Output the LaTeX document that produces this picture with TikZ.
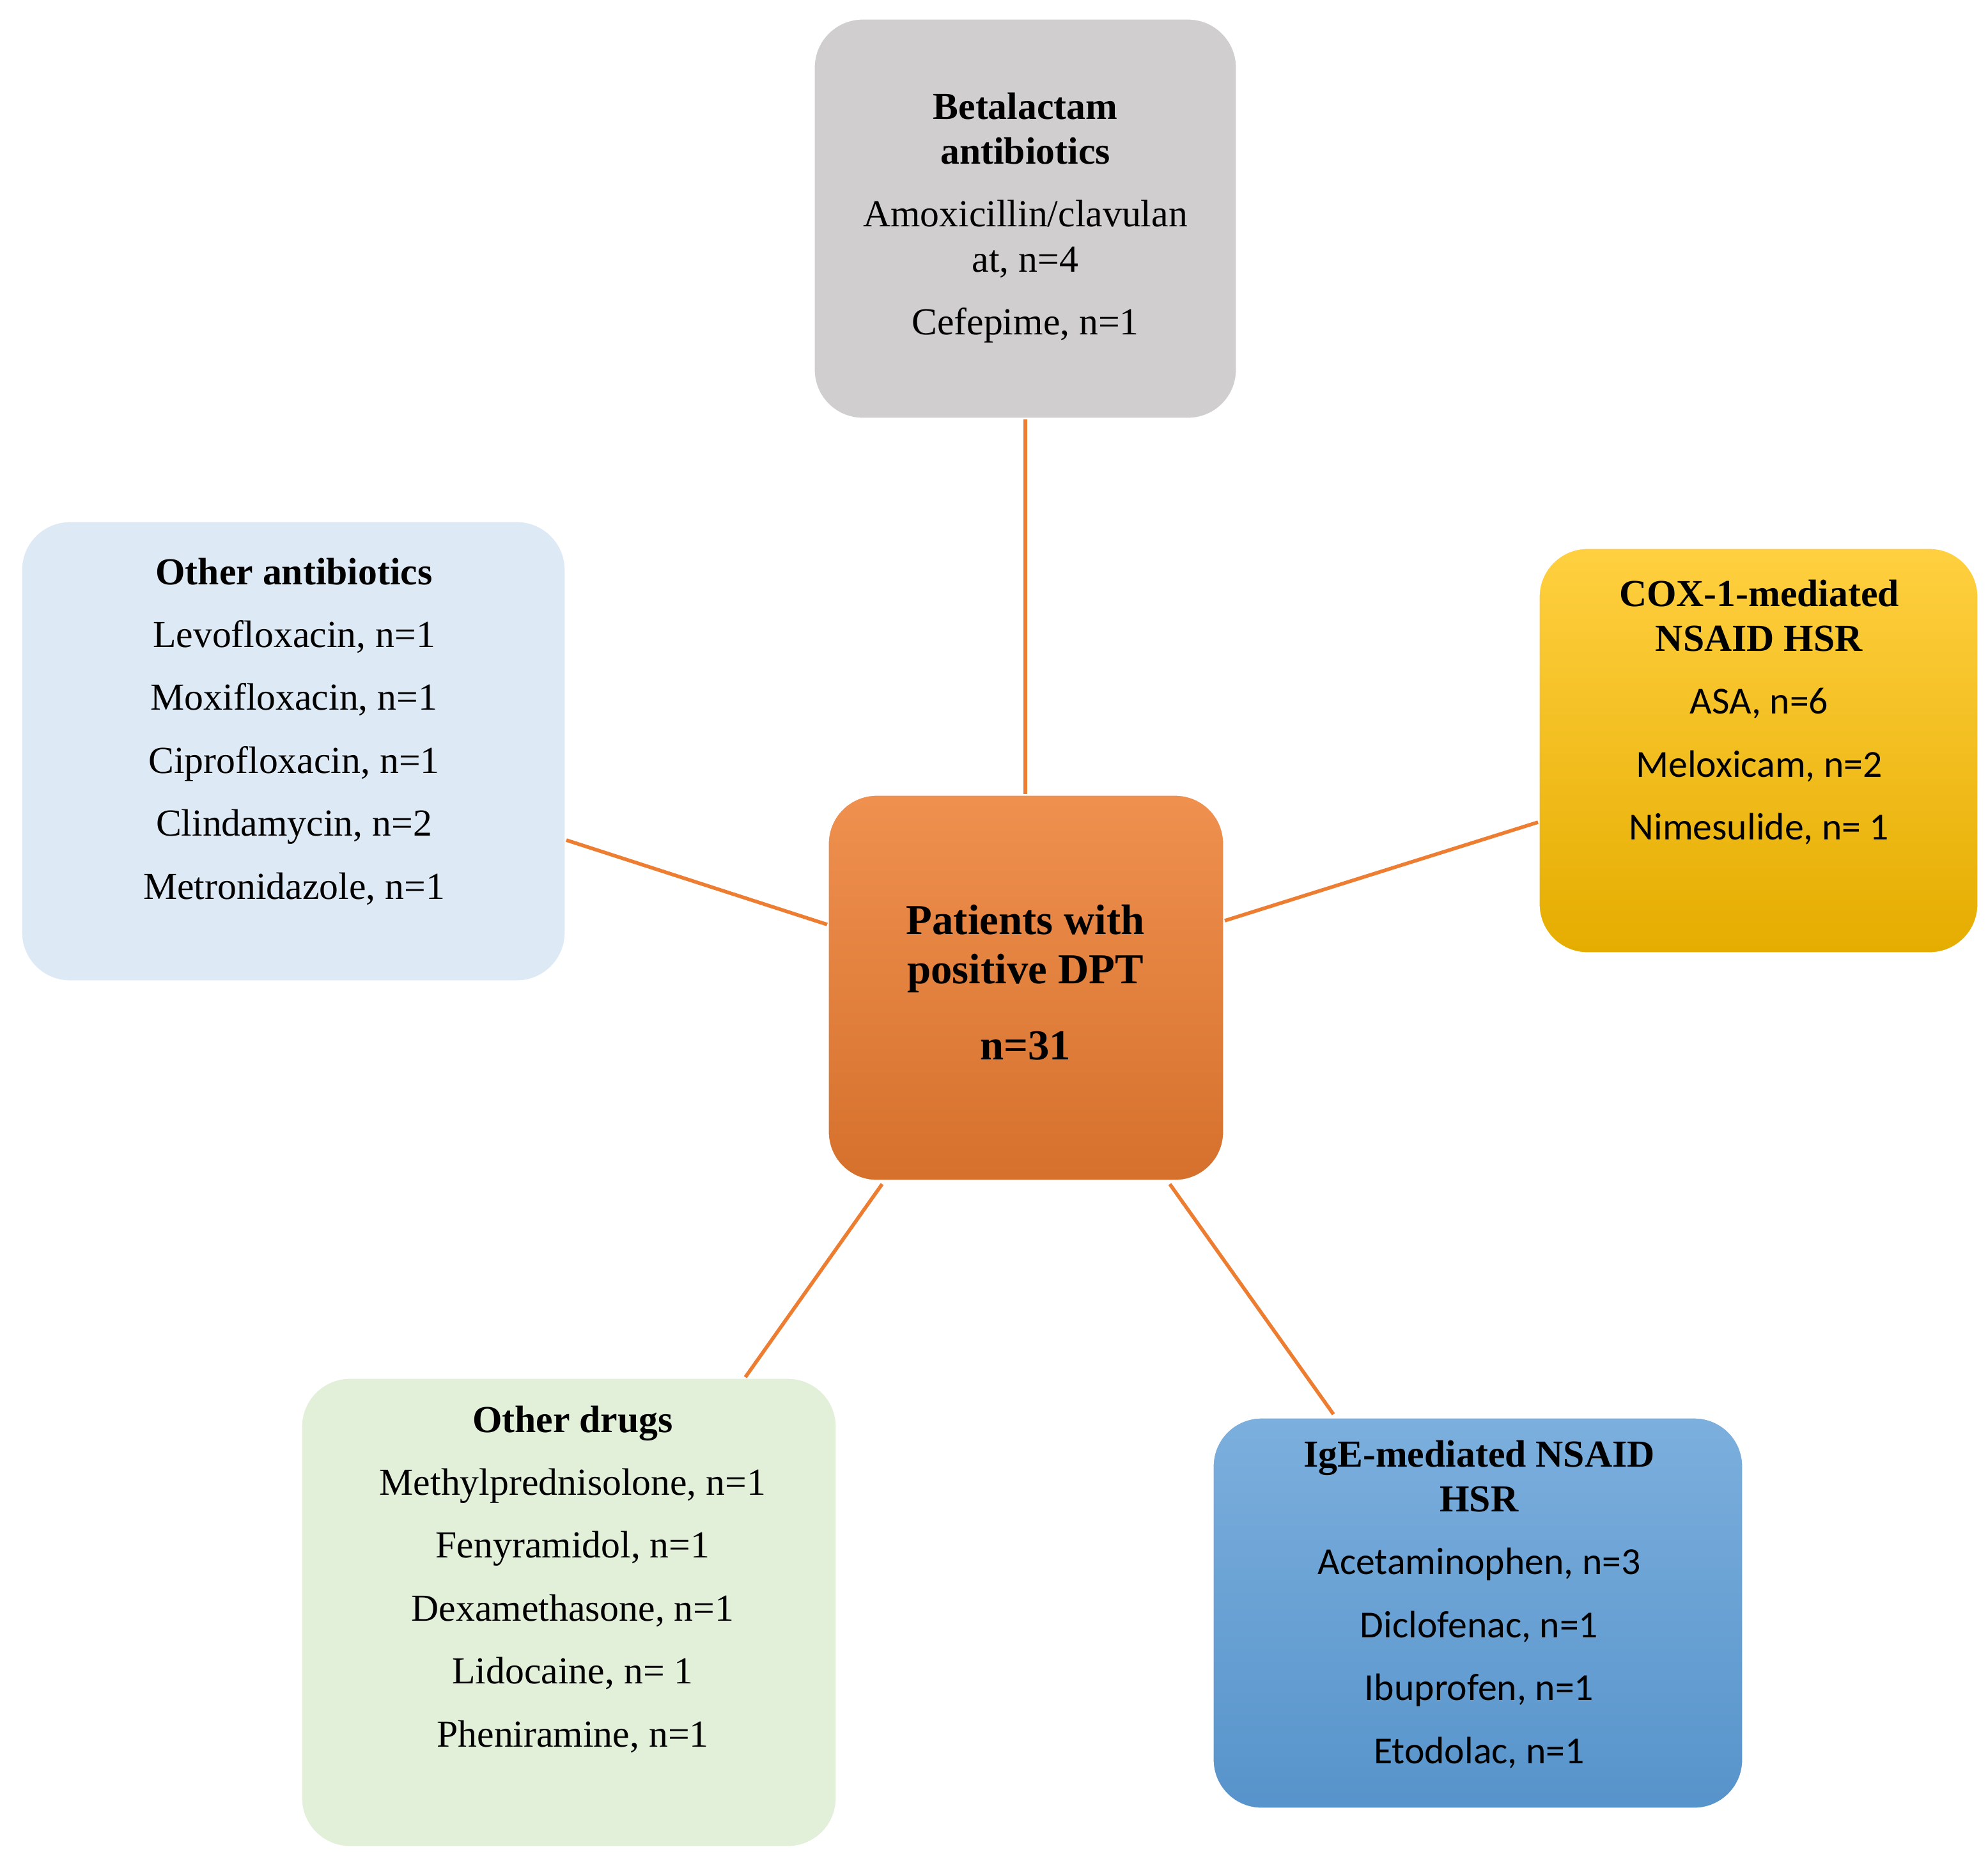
\documentclass[tikz,border=0pt]{standalone}
\usepackage{fontspec}
\setmainfont{Liberation Serif}
\newfontfamily\sansf{Carlito}
\begin{document}
\begin{tikzpicture}[x=0.02cm,y=-0.02cm,
 box/.style={draw=white,line width=1.5pt,rounded corners=22pt},
 lbl/.style={anchor=north,align=center,font=\fontsize{17}{20}\selectfont,inner sep=0pt},
 conn/.style={draw={rgb,255:red,237;green,125;blue,49},line width=1.6pt}]
\useasboundingbox (0,0) rectangle (1555,1451);
\definecolor{grey}{HTML}{D0CECE}
\definecolor{lblue}{HTML}{DDE9F5}
\definecolor{lgreen}{HTML}{E2EFD9}
\definecolor{gold}{HTML}{FFC000}
\definecolor{org}{HTML}{ED7D31}
\definecolor{blu}{HTML}{5B9BD5}
\path[box,fill=grey] (636,14) rectangle (968,328) coordinate (bE);
\coordinate (b) at (802,328);
\path[box,fill=lblue] (16,407) rectangle (443,768);
\coordinate (oa) at (443,657);
\path[box,top color=gold!75!white,bottom color=gold!90!black] (1203,428) rectangle (1548,746);
\coordinate (cx) at (1203,643);
\path[box,top color=org!85!white,bottom color=org!90!black] (647,621) rectangle (958,924);
\coordinate (cT) at (802,621); \coordinate (cL) at (647,723); \coordinate (cR) at (958,720);
\coordinate (cBL) at (690,926); \coordinate (cBR) at (915,926);
\path[box,fill=lgreen] (235,1077) rectangle (655,1445);
\coordinate (od) at (583,1077);
\path[box,top color=blu!80!white,bottom color=blu!95!black] (948,1108) rectangle (1364,1415);
\coordinate (ig) at (1043,1106);
\draw[conn] (b)--(cT); \draw[conn] (oa)--(cL); \draw[conn] (cR)--(cx);
\draw[conn] (cBL)--(od); \draw[conn] (cBR)--(ig);
\node[lbl] (t1) at (802,72) {\textbf{Betalactam}\\\textbf{antibiotics}\\[8pt]Amoxicillin/clavulan\\at, n=4\\[8pt]Cefepime, n=1};
\node[lbl] (t2) at (230,436) {\textbf{Other antibiotics}\\[8pt]Levofloxacin, n=1\\[8pt]Moxifloxacin, n=1\\[8pt]Ciprofloxacin, n=1\\[8pt]Clindamycin, n=2\\[8pt]Metronidazole, n=1};
\node[lbl] (t3) at (1376,453) {\textbf{COX-1-mediated}\\\textbf{NSAID HSR}\\[8pt]{\sansf ASA, n=6}\\[8pt]{\sansf Meloxicam, n=2}\\[8pt]{\sansf Nimesulide, n= 1}};
\node[lbl,font=\fontsize{19}{22}\selectfont\bfseries] (t4) at (802,707) {Patients with\\positive DPT\\[12pt]n=31};
\node[lbl] (t5) at (448,1099) {\textbf{Other drugs}\\[8pt]Methylprednisolone, n=1\\[8pt]Fenyramidol, n=1\\[8pt]Dexamethasone, n=1\\[8pt]Lidocaine, n= 1\\[8pt]Pheniramine, n=1};
\node[lbl] (t6) at (1157,1126) {\textbf{IgE-mediated NSAID}\\\textbf{HSR}\\[8pt]{\sansf Acetaminophen, n=3}\\[8pt]{\sansf Diclofenac, n=1}\\[8pt]{\sansf Ibuprofen, n=1}\\[8pt]{\sansf Etodolac, n=1}};
\end{tikzpicture}
\end{document}
